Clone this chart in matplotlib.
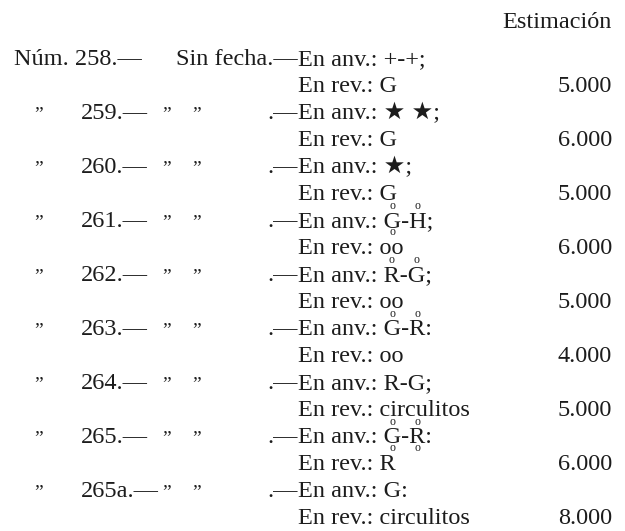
import matplotlib
matplotlib.use('Agg')
import matplotlib.pyplot as plt

numeros = ['258', '259', '260', '261', '262', '263', '264', '265', '265a']
anverso = ['+-+;', '★ ★;', '★;', 'G-H;', 'R-G;', 'G-R:', 'R-G;', 'G-R:', 'G:']
reverso = ['G', 'G', 'G', 'oo', 'oo', 'oo', 'circulitos', 'R', 'circulitos']
estimacion = ['5.000', '6.000', '5.000', '6.000', '5.000', '4.000', '5.000', '6.000', '8.000']

# small circles above/below letters of the obverse: (row, letter index, side)
circulos = [
    (3, 0, 'above'), (3, 2, 'above'), (3, 0, 'below'),
    (4, 0, 'above'), (4, 2, 'above'),
    (5, 0, 'above'), (5, 2, 'above'),
    (7, 0, 'above'), (7, 2, 'above'),
    (7, 0, 'below'), (7, 2, 'below'),
]

fam = ['Liberation Serif', 'DejaVu Sans']
fs = 17.5
col = '#1c1c1c'

fig = plt.figure(figsize=(6.25, 5.31), dpi=100)
ax = fig.add_axes([0, 0, 1, 1])
ax.set_xlim(0, 625)
ax.set_ylim(531, 0)
ax.axis('off')
renderer = fig.canvas.get_renderer()

x_en = 298
x_val = 612
y0 = 65
dy = 27

def txt(x, y, s, ha='left', size=fs):
    return ax.text(x, y, s, ha=ha, va='baseline', fontsize=size, family=fam, color=col)

def ancho(s):
    if s == '':
        return 0
    t = txt(0, -100, s)
    w = t.get_window_extent(renderer).width
    t.remove()
    return w

txt(x_val, 28, 'Estimación', ha='right')

for i, num in enumerate(numeros):
    ya = y0 + 2 * i * dy
    yr = ya + dy
    if i == 0:
        txt(14, ya, 'Núm. ' + num + '.—')
        txt(x_en, ya, 'Sin fecha.—', ha='right')
    else:
        txt(34, ya, '\u201d', size=fs * 0.8)
        txt(81, ya, num + '.—')
        txt(162, ya, '\u201d', size=fs * 0.8)
        txt(192, ya, '\u201d', size=fs * 0.8)
        txt(x_en, ya, '.—', ha='right')
    txt(x_en, ya, 'En anv.: ' + anverso[i])
    txt(x_en, yr, 'En rev.: ' + reverso[i])
    txt(x_val, yr, estimacion[i], ha='right')

for fila, j, pos in circulos:
    s = anverso[fila]
    y = y0 + 2 * fila * dy
    xc = x_en + ancho('En anv.: ' + s[:j]) + ancho(s[j]) / 2
    yc = y - 21 if pos == 'above' else y + 5
    ax.text(xc, yc, 'o', ha='center', va='center', fontsize=8.5, family=fam, color=col)

fig.savefig('out.png', dpi=100, facecolor='white')
